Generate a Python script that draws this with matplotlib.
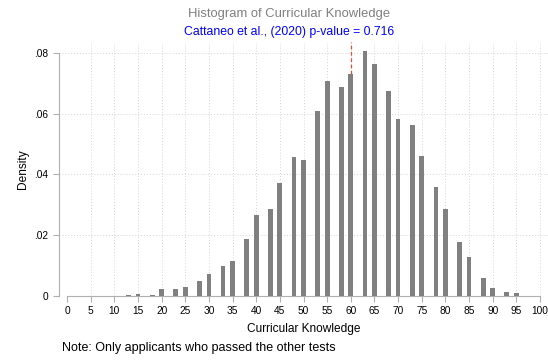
import matplotlib
matplotlib.use('Agg')
import matplotlib.pyplot as plt
import numpy as np

plt.rcParams['font.family'] = ['Liberation Sans', 'DejaVu Sans']

# score bins and estimated densities
scores = [13, 15, 18, 20, 23, 25, 28, 30, 33, 35, 38, 40, 43, 45, 48, 50, 53,
          55, 58, 60, 63, 65, 68, 70, 73, 75, 78, 80, 83, 85, 88, 90, 93, 95]
density = [0.0003, 0.0008, 0.0003, 0.0023, 0.0023, 0.0030, 0.0049, 0.0073,
           0.0100, 0.0114, 0.0189, 0.0266, 0.0285, 0.0373, 0.0459, 0.0448,
           0.0610, 0.0706, 0.0687, 0.0731, 0.0808, 0.0763, 0.0676, 0.0582,
           0.0564, 0.0460, 0.0358, 0.0285, 0.0178, 0.0127, 0.0058, 0.0025,
           0.0013, 0.0010]
cutoff = 60
xticks = list(range(0, 101, 5))
yticks = [0, 0.02, 0.04, 0.06, 0.08]
ylabels = ['0', '.02', '.04', '.06', '.08']

fig = plt.figure(figsize=(5.48, 3.6), dpi=100)
ax = fig.add_axes([59/548, 64/360, 489/548, 254/360])

ax.bar(scores, density, width=1.0, color='#808080', zorder=3)

# dashed marker at the cutoff
h = density[scores.index(cutoff)]
ax.plot([cutoff, cutoff], [h, 0.0836], color='#e0503c', ls=(0, (3, 2)), lw=0.9, zorder=4)

ax.set_xlim(-1.7, 101.7)
ax.set_ylim(0, 0.0836)
ax.set_xticks(xticks)
ax.set_yticks(yticks)
ax.set_yticklabels(ylabels)
ax.tick_params(axis='both', labelsize=7.3, color='#b0b0b0', length=4, width=0.8)

for x in xticks[1:]:
    ax.axvline(x, color='#d4d4d4', ls=(0, (1, 2)), lw=0.7, zorder=1)
for y in yticks[1:]:
    ax.axhline(y, color='#d4d4d4', ls=(0, (1, 2)), lw=0.7, zorder=1)

for s in ['top', 'right']:
    ax.spines[s].set_visible(False)
ax.spines['left'].set_position(('data', -1.7))
ax.spines['left'].set_bounds(0, 0.08)
ax.spines['bottom'].set_bounds(0, 100)
ax.spines['left'].set_color('#b0b0b0')
ax.spines['bottom'].set_color('#b0b0b0')

ax.set_xlabel('Curricular Knowledge', fontsize=8.6, labelpad=5)
ax.set_ylabel('Density', fontsize=8.6, labelpad=4)

fig.text(289/548, 1 - 14/360, 'Histogram of Curricular Knowledge', ha='center', va='center',
         fontsize=9.4, color='#808080')
fig.text(289/548, 1 - 32/360, 'Cattaneo et al., (2020) p-value = 0.716', ha='center', va='center',
         fontsize=8.8, color='#0000ff')
fig.text(62/548, 1 - 348/360, 'Note: Only applicants who passed the other tests', ha='left', va='center',
         fontsize=9)

fig.savefig('out.png', dpi=100)
